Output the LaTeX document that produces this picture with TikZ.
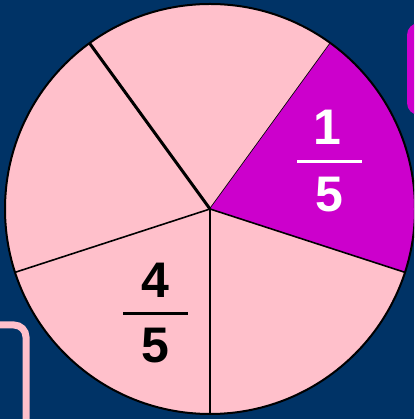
\documentclass[tikz,border=0pt]{standalone}
\usepackage{fontspec}
\setmainfont{Liberation Sans}
\usepackage{xcolor}
\definecolor{navy}{HTML}{003366}
\definecolor{slicepink}{HTML}{FFC0CB}
\definecolor{slicemag}{HTML}{CC00CC}

\tikzset{
  slice/.style={fill=slicepink},
  digit/.style={font=\fontsize{50}{50}\selectfont\bfseries, inner sep=0pt},
  fracbar/.style={line width=3pt}
}

\begin{document}
\begin{tikzpicture}[x=1pt,y=1pt]
  % background and frame
  \fill[navy] (0,0) rectangle (414,419);
  \useasboundingbox (0,0) rectangle (414,419);
  \clip (0,0) rectangle (414,419);
  % side boxes, mostly off the page
  \fill[slicemag,rounded corners=12pt] (407,396) rectangle (460,304);
  \draw[slicepink,line width=7pt,rounded corners=12pt] (-30,94) -- (26,94) -- (26,-30);
  % pie of five fifths
  \coordinate (c) at (210,210);
  \foreach \a/\clr in {54/slicepink,126/slicepink,198/slicepink,270/slicepink,342/slicemag}{
    \fill[\clr] (c) -- ++(\a:205) arc (\a:\a+72:205) -- cycle;
    \draw[line width=1.6pt] (c) -- ++(\a:205);
  }
  \draw[line width=3pt] (c) -- ++(126:205);
  \draw[line width=2pt] (c) circle (205);
  % one fifth
  \node[digit,white] (num1) at (327,292) {1};
  \node[digit,white] (den1) at (329,224) {5};
  \draw[fracbar,white] (297,257) -- (362,257);
  % four fifths
  \node[digit] (num4) at (155,139) {4};
  \node[digit] (den4) at (155,73) {5};
  \draw[fracbar] (123,105) -- (188,105);
\end{tikzpicture}
\end{document}
